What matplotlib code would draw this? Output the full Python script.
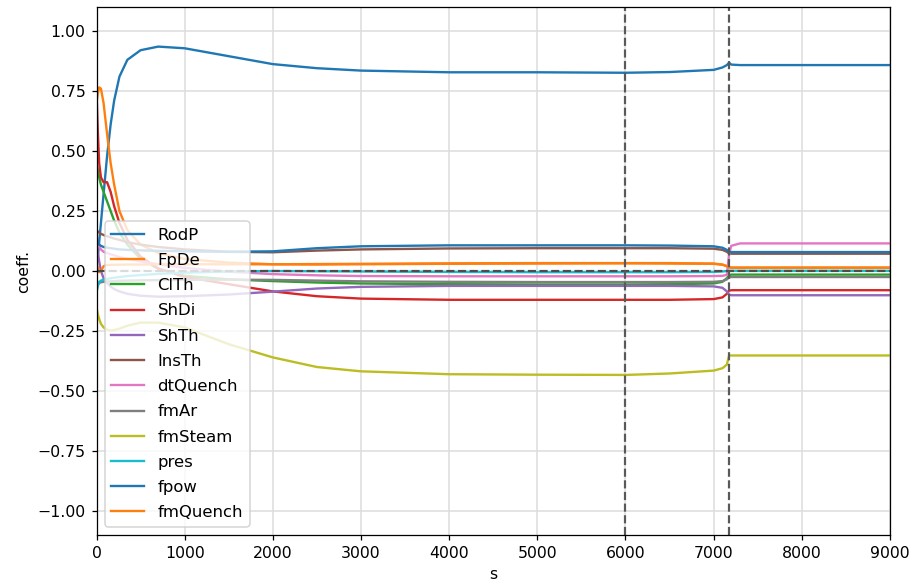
import matplotlib
matplotlib.use("Agg")
import matplotlib.pyplot as plt

# sample times (s) shared by all coefficient series
t = [0, 15, 30, 50, 80, 120, 160, 200, 260, 350, 500, 700, 1000, 1500,
     2000, 2500, 3000, 4000, 5000, 6000, 6500, 7000, 7100, 7150, 7175,
     7200, 7300, 9000]

RodP = [0.02, 0.06, 0.12, 0.20, 0.32, 0.48, 0.61, 0.71, 0.81, 0.88, 0.92,
        0.935, 0.928, 0.895, 0.862, 0.845, 0.835, 0.828, 0.828, 0.826,
        0.829, 0.838, 0.848, 0.858, 0.868, 0.860, 0.858, 0.858]
FpDe = [0.70, 0.74, 0.765, 0.76, 0.70, 0.57, 0.45, 0.36, 0.25, 0.17, 0.11,
        0.075, 0.05, 0.035, 0.028, 0.027, 0.028, 0.030, 0.031, 0.032,
        0.031, 0.030, 0.026, 0.020, 0.015, 0.014, 0.014, 0.014]
ClTh = [0.45, 0.42, 0.39, 0.36, 0.33, 0.29, 0.25, 0.21, 0.16, 0.11, 0.05,
        0.01, -0.02, -0.035, -0.042, -0.048, -0.052, -0.055, -0.056,
        -0.056, -0.055, -0.052, -0.045, -0.030, -0.018, -0.015, -0.015,
        -0.015]
ShDi = [0.75, 0.58, 0.45, 0.39, 0.37, 0.37, 0.33, 0.27, 0.20, 0.13, 0.06,
        0.01, -0.025, -0.055, -0.085, -0.105, -0.115, -0.12, -0.12, -0.12,
        -0.12, -0.117, -0.11, -0.095, -0.082, -0.08, -0.08, -0.08]
ShTh = [0.13, 0.08, 0.04, 0.0, -0.03, -0.05, -0.065, -0.075, -0.085,
        -0.095, -0.103, -0.107, -0.105, -0.098, -0.086, -0.073, -0.066,
        -0.062, -0.062, -0.062, -0.062, -0.064, -0.07, -0.085, -0.098,
        -0.101, -0.101, -0.101]
InsTh = [0.17, 0.165, 0.16, 0.155, 0.15, 0.145, 0.14, 0.135, 0.13, 0.12,
         0.11, 0.10, 0.09, 0.08, 0.078, 0.085, 0.09, 0.094, 0.095, 0.095,
         0.095, 0.093, 0.088, 0.08, 0.073, 0.072, 0.072, 0.072]
dtQuench = [0.15, 0.12, 0.10, 0.09, 0.08, 0.075, 0.07, 0.065, 0.058, 0.05,
            0.04, 0.028, 0.013, -0.003, -0.013, -0.018, -0.021, -0.022,
            -0.022, -0.022, -0.022, -0.021, -0.02, -0.016, 0.07, 0.105,
            0.115, 0.115]
fmAr = [-0.08, -0.06, -0.05, -0.047, -0.045, -0.044, -0.043, -0.042,
        -0.041, -0.04, -0.039, -0.038, -0.037, -0.036, -0.037, -0.04,
        -0.043, -0.045, -0.046, -0.046, -0.046, -0.045, -0.042, -0.035,
        -0.027, -0.025, -0.025, -0.025]
fmSteam = [-0.15, -0.18, -0.20, -0.22, -0.235, -0.245, -0.248, -0.246,
           -0.24, -0.228, -0.215, -0.215, -0.235, -0.305, -0.36, -0.40,
           -0.418, -0.43, -0.432, -0.433, -0.427, -0.415, -0.405, -0.39,
           -0.352, -0.352, -0.352, -0.352]
pres = [-0.09, -0.06, -0.045, -0.04, -0.036, -0.033, -0.03, -0.028, -0.025,
        -0.021, -0.017, -0.012, -0.007, -0.002, 0.0, -0.001, -0.002,
        -0.004, -0.005, -0.005, -0.005, -0.004, -0.002, 0.0, 0.001, 0.001,
        0.001, 0.001]
fpow = [0.15, 0.12, 0.11, 0.105, 0.10, 0.097, 0.095, 0.093, 0.09, 0.088,
        0.086, 0.084, 0.082, 0.08, 0.082, 0.095, 0.103, 0.107, 0.107, 0.107,
        0.106, 0.103, 0.097, 0.088, 0.08, 0.079, 0.079, 0.079]
fmQuench = [0.04, 0.01, -0.005, 0.0, 0.02, 0.025, 0.026, 0.026, 0.026,
            0.027, 0.027, 0.028, 0.028, 0.028, 0.028, 0.029, 0.03, 0.032,
            0.033, 0.033, 0.033, 0.031, 0.027, 0.02, 0.015, 0.014, 0.014,
            0.014]

labels = ["RodP", "FpDe", "ClTh", "ShDi", "ShTh", "InsTh", "dtQuench",
          "fmAr", "fmSteam", "pres", "fpow", "fmQuench"]
series = [RodP, FpDe, ClTh, ShDi, ShTh, InsTh, dtQuench, fmAr, fmSteam,
          pres, fpow, fmQuench]

# event markers on the time axis
events = [6000, 7175]

dpi = 113
fig = plt.figure(figsize=(914 / dpi, 583 / dpi), dpi=dpi)
ax = fig.add_subplot(111)
fig.subplots_adjust(left=0.1056, right=0.9737, top=0.988, bottom=0.0823)

for name, vals in zip(labels, series):
    ax.plot(t, vals, label=name, lw=1.5)

ax.axhline(0, color="0.3", ls="--", lw=1.4)
for ev in events:
    ax.axvline(ev, color="0.35", ls="--", lw=1.4)

ax.set_xlim(0, 9000)
ax.set_ylim(-1.1, 1.1)
ax.set_xticks(range(0, 9001, 1000))
ax.set_yticks([-1.0, -0.75, -0.5, -0.25, 0.0, 0.25, 0.5, 0.75, 1.0])
ax.grid(True, color="#dddddd", lw=1)
ax.set_axisbelow(True)
ax.set_xlabel("s")
ax.set_ylabel("coeff.")
ax.legend(loc="lower left", fontsize=10.5, labelspacing=0.62)

fig.savefig("out.png", dpi=dpi)
